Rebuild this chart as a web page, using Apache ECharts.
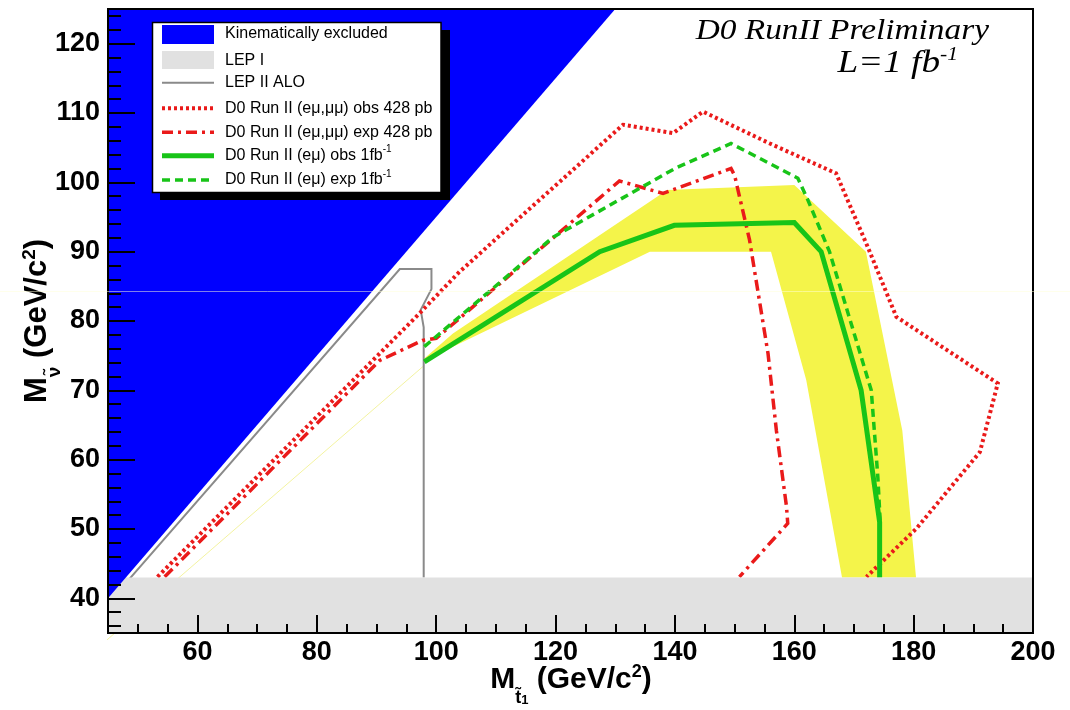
<!DOCTYPE html>
<html><head><meta charset="utf-8">
<script src="https://cdn.jsdelivr.net/npm/echarts@6/dist/echarts.min.js"></script>
<style>html,body{margin:0;padding:0;background:#fff}#c{width:1070px;height:710px}</style>
</head><body><div id="c"></div>
<script>
// ---------- data ----------
const xMajorTicks = [60, 80, 100, 120, 140, 160, 180, 200];
const xMinorTicks = [50, 55, 60, 65, 70, 75, 80, 85, 90, 95, 100, 105, 110, 115, 120, 125, 130, 135, 140, 145, 150, 155, 160, 165, 170, 175, 180, 185, 190, 195];
const yMajorTicks = [40, 50, 60, 70, 80, 90, 100, 110, 120];
const yMinorTicks = [36, 38, 40, 42, 44, 46, 48, 50, 52, 54, 56, 58, 60, 62, 64, 66, 68, 70, 72, 74, 76, 78, 80, 82, 84, 86, 88, 90, 92, 94, 96, 98, 100, 102, 104, 106, 108, 110, 112, 114, 116, 118, 120, 122, 124];

// kinematically excluded boundary (region above is excluded)
const kinematicLimit = [[45, 40], [130, 125]];
// LEP I excluded band upper edge
const lep1Edge = [[45, 43], [200, 43]];
// LEP II ALO contour
const lep2Alo = [[48.6, 42.8], [93.9, 87.5], [99.2, 87.5], [99.2, 84.6], [97.4, 81.6], [97.9, 79.1], [97.9, 43]];
// D0 Run II (e mu, mu mu) observed 428 pb-1
const d0ObsLow = [[53.3, 43.1], [97.2, 81.1], [103.9, 87.1], [131.3, 108.3], [139.7, 107.1], [144.7, 110.2], [155.9, 105.6], [167.0, 101.3], [172.3, 90.7], [177.1, 80.6], [194.1, 71.0], [191.1, 61.1], [180.5, 50.1], [172.1, 43.1]];
// D0 Run II (e mu, mu mu) expected 428 pb-1
const d0ExpLow = [[54.5, 43.1], [90.5, 74.3], [97.7, 77.2], [100, 77.5], [130.7, 100.2], [138.0, 98.4], [149.4, 102.0], [150.0, 101.0], [152.5, 91.7], [155.6, 75.3], [157.0, 64.2], [158.7, 53.2], [158.9, 50.8], [150.8, 43.1]];
// D0 Run II (e mu) observed 1 fb-1
const d0ObsHigh = [[98.0, 74.1], [127.4, 90.0], [139.9, 93.8], [160.0, 94.2], [164.5, 90.0], [171.2, 70.0], [174.3, 51.0], [174.3, 43.0]];
// D0 Run II (e mu) expected 1 fb-1
const d0ExpHigh = [[98.0, 76.3], [119.6, 92.1], [140.0, 102.0], [149.4, 105.6], [160.6, 100.6], [162.3, 97.4], [165.9, 90.0], [172.9, 70.0], [174.0, 57.5], [174.4, 51.0], [174.4, 43.0]];
// +-1 sigma band around the expected 1 fb-1 limit (polygon)
const d0ExpBand = [[98.0, 74.6], [102.8, 78.2], [138.7, 98.9], [160.0, 99.6], [172.0, 90.0], [178.1, 64.2], [180.4, 43.0], [168.0, 43.0], [162.0, 71.5], [156.1, 90.0], [135.8, 90.0], [102.8, 76.3], [98.0, 74.0]];
// faint stray edge of the band that runs out of the frame
const bandStrayEdge = [[31.8, 24.3], [98.0, 73.6]];

const legendLabels = [
  'Kinematically excluded', 'LEP I', 'LEP II ALO',
  'D0 Run II (eμ,μμ) obs 428 pb', 'D0 Run II (eμ,μμ) exp 428 pb',
  'D0 Run II (eμ) obs 1fb', 'D0 Run II (eμ) exp 1fb'
];
const legendSup = ['', '', '', '', '', '-1', '-1'];

// ---------- styles ----------
const SANS = '"Liberation Sans", Arial, Helvetica, sans-serif';
const SERIF = '"Liberation Serif", "Times New Roman", serif';
const RED = '#ea1a1a';
const GREEN = '#18c418';
const GREYLINE = '#8a8a8a';
const BLUE = '#0000ff';
const LEPGREY = '#e1e1e1';
const YELLOW = '#f4f44a';
const dotted = [3, 3];
const dashDot = [11, 5, 3, 5];
const dashed = [8, 5];

const chart = echarts.init(document.getElementById('c'), null, {renderer: 'canvas'});

function lineSeries(data, color, width, type, z) {
  return {
    type: 'line', data: data, symbol: 'none', silent: true, z: z,
    lineStyle: {color: color, width: width, type: type, cap: 'butt', join: 'miter'},
    xAxisIndex: 0, yAxisIndex: 0, animation: false
  };
}

const tickLabelStyle = {color: '#000', fontSize: 27, fontWeight: 'bold', fontFamily: SANS};

// legend graphic
const legX = 162, legSwW = 52, legTextX = 225;
const legRows = [34, 61, 82.7, 108.3, 132.3, 155.7, 180];
const legendGraphics = [
  {type: 'rect', shape: {x: 160, y: 30, width: 290, height: 170}, style: {fill: '#000'}, z: 100},
  {type: 'rect', shape: {x: 152.5, y: 22.5, width: 288.5, height: 170}, style: {fill: '#fff', stroke: '#000', lineWidth: 1.5}, z: 101},
  {type: 'rect', shape: {x: legX, y: 25, width: legSwW, height: 19}, style: {fill: BLUE}, z: 102},
  {type: 'rect', shape: {x: legX, y: 51, width: legSwW, height: 18}, style: {fill: LEPGREY}, z: 102},
  {type: 'line', shape: {x1: legX, y1: legRows[2], x2: legX + legSwW, y2: legRows[2]}, style: {stroke: GREYLINE, lineWidth: 2}, z: 102},
  {type: 'line', shape: {x1: legX, y1: legRows[3], x2: legX + legSwW, y2: legRows[3]}, style: {stroke: RED, lineWidth: 4, lineDash: dotted}, z: 102},
  {type: 'line', shape: {x1: legX, y1: legRows[4], x2: legX + legSwW, y2: legRows[4]}, style: {stroke: RED, lineWidth: 3.5, lineDash: dashDot}, z: 102},
  {type: 'line', shape: {x1: legX, y1: legRows[5], x2: legX + legSwW, y2: legRows[5]}, style: {stroke: GREEN, lineWidth: 5}, z: 102},
  {type: 'line', shape: {x1: legX, y1: legRows[6], x2: legX + legSwW, y2: legRows[6]}, style: {stroke: GREEN, lineWidth: 3.5, lineDash: dashed}, z: 102}
];
legendLabels.forEach(function (t, i) {
  legendGraphics.push({
    type: 'text', x: legTextX, y: legRows[i], z: 103,
    style: {
      text: '{m|' + t + '}' + (legendSup[i] ? '{sup|' + legendSup[i] + '}' : ''),
      rich: {
        m: {fontSize: 16, fontFamily: SANS, fill: '#000', lineHeight: 22},
        sup: {fontSize: 10, fontFamily: SANS, fill: '#000', lineHeight: 12, verticalAlign: 'top'}
      },
      verticalAlign: 'middle', align: 'left'
    }
  });
});

function titleRich(fs) {
  return {
    m: {fontSize: fs, fontWeight: 'bold', fontFamily: SANS, fill: '#000', lineHeight: 54},
    s: {fontSize: Math.round(fs * 0.6), fontWeight: 'bold', fontFamily: SANS, fill: '#000', lineHeight: 18, verticalAlign: 'bottom'},
    ss: {fontSize: Math.round(fs * 0.42), fontWeight: 'bold', fontFamily: SANS, fill: '#000', lineHeight: 4, verticalAlign: 'bottom'},
    sup: {fontSize: Math.round(fs * 0.6), fontWeight: 'bold', fontFamily: SANS, fill: '#000', verticalAlign: 'top', padding: [10, 0, 0, 0]}
  };
}

const option = {
  animation: false,
  backgroundColor: '#ffffff',
  grid: {left: 108, right: 37, top: 9, bottom: 77, show: true, z: 30, borderColor: '#000', borderWidth: 2, backgroundColor: 'transparent', containLabel: false},
  xAxis: [
    {type: 'value', min: 45, max: 200, position: 'bottom', z: 31,
     axisLine: {show: true, onZero: false, lineStyle: {color: '#000', width: 2}},
     axisTick: {show: true, inside: true, length: 18, lineStyle: {color: '#000', width: 2}, customValues: xMajorTicks},
     axisLabel: Object.assign({customValues: xMajorTicks, margin: 6}, tickLabelStyle),
     splitLine: {show: false}},
    {type: 'value', min: 45, max: 200, position: 'bottom', offset: 0, z: 31,
     axisLine: {show: false},
     axisTick: {show: true, inside: true, length: 9, lineStyle: {color: '#000', width: 2}, customValues: xMinorTicks},
     axisLabel: {show: false}, splitLine: {show: false}}
  ],
  yAxis: [
    {type: 'value', min: 35, max: 125, position: 'left', z: 31,
     axisLine: {show: true, onZero: false, lineStyle: {color: '#000', width: 2}},
     axisTick: {show: true, inside: true, length: 27, lineStyle: {color: '#000', width: 2}, customValues: yMajorTicks},
     axisLabel: Object.assign({customValues: yMajorTicks, margin: 8}, tickLabelStyle),
     splitLine: {show: false}},
    {type: 'value', min: 35, max: 125, position: 'left', offset: 0, z: 31,
     axisLine: {show: false},
     axisTick: {show: true, inside: true, length: 13, lineStyle: {color: '#000', width: 2}, customValues: yMinorTicks},
     axisLabel: {show: false}, splitLine: {show: false}}
  ],
  series: [
    {type: 'custom', silent: true, z: 1, xAxisIndex: 0, yAxisIndex: 0, data: [[100, 80]],
     renderItem: function (params, api) {
       const pts = d0ExpBand.map(function (p) { return api.coord(p); });
       return {type: 'polygon', shape: {points: pts}, style: {fill: YELLOW}};
     }},
    Object.assign(lineSeries(bandStrayEdge, 'rgba(238,238,120,0.7)', 1, 'solid', 2), {clip: false}),
    lineSeries(lep2Alo, GREYLINE, 2, 'solid', 3),
    lineSeries(d0ObsLow, RED, 4, dotted, 4),
    lineSeries(d0ExpLow, RED, 3.5, dashDot, 4),
    lineSeries(d0ExpHigh, GREEN, 3.5, dashed, 5),
    lineSeries(d0ObsHigh, GREEN, 5, 'solid', 6),
    {type: 'line', data: lep1Edge, symbol: 'none', silent: true, z: 8,
     lineStyle: {width: 0, opacity: 0}, areaStyle: {color: LEPGREY, opacity: 1, origin: 'start'}},
    {type: 'line', data: kinematicLimit, symbol: 'none', silent: true, z: 9,
     lineStyle: {width: 0, opacity: 0}, areaStyle: {color: BLUE, opacity: 1, origin: 'end'}}
  ],
  graphic: legendGraphics.concat([
    {type: 'text', x: 989, y: 31, z: 50, scaleX: 1.15,
     style: {text: 'D0 RunII Preliminary', fontSize: 29, fontStyle: 'italic', fontFamily: SERIF, fill: '#000', align: 'right', verticalAlign: 'middle'}},
    {type: 'text', x: 958, y: 64, z: 50, scaleX: 1.2,
     style: {text: '{m|L=1 fb}{sup|-1}', align: 'right', verticalAlign: 'middle',
       rich: {m: {fontSize: 31, fontStyle: 'italic', fontFamily: SERIF, fill: '#000', lineHeight: 40},
              sup: {fontSize: 18, fontStyle: 'italic', fontFamily: SERIF, fill: '#000', verticalAlign: 'top', padding: [2, 0, 0, 0]}}}},
    {type: 'text', x: 571, y: 680, z: 50,
     style: {text: '{m|M}{s|t̃}{ss|1}{m| (GeV/c}{sup|2}{m|)}', align: 'center', verticalAlign: 'middle', rich: titleRich(30)}},
    {type: 'text', x: 37, y: 321, z: 50, rotation: Math.PI / 2,
     style: {text: '{m|M}{s|ν̃}{m| (GeV/c}{sup|2}{m|)}', align: 'center', verticalAlign: 'middle', rich: titleRich(31)}},
    {type: 'line', z: 120, silent: true, shape: {x1: 0, y1: 291.5, x2: 1070, y2: 291.5}, style: {stroke: 'rgba(255,255,215,0.5)', lineWidth: 1}}
  ])
};
chart.setOption(option);
</script>
</body></html>
